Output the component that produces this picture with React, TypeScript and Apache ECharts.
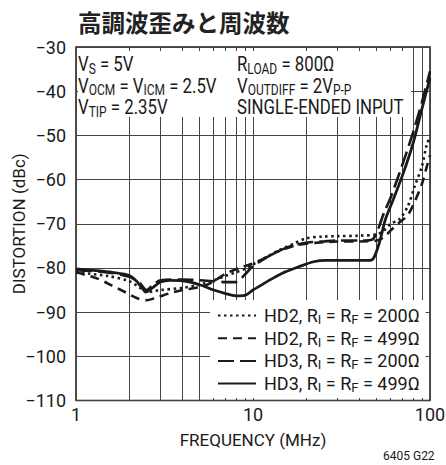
import React, { useEffect, useRef } from 'react';
import * as echarts from 'echarts';

const FONT = 'Roboto, "Liberation Sans", sans-serif';

const title = '高調波歪みと周波数';
const xAxisName = 'FREQUENCY (MHz)';
const yAxisName = 'DISTORTION (dBc)';
const figureId = '6405 G22';

const xMin = 1;
const xMax = 100;
const yMin = -110;
const yMax = -30;
const yStep = 10;
const xMinorGrid = [2, 3, 4, 5, 6, 7, 8, 9, 20, 30, 40, 50, 60, 70, 80, 90];

const seriesNames = [
  'HD2, RI = RF = 200Ω',
  'HD2, RI = RF = 499Ω',
  'HD3, RI = RF = 200Ω',
  'HD3, RI = RF = 499Ω',
];
const seriesLegendRich = [
  '{f|HD2, R}{s|I}{n| = R}{s|F}{n| = 200Ω}',
  '{f|HD2, R}{s|I}{n| = R}{s|F}{n| = 499Ω}',
  '{f|HD3, R}{s|I}{n| = R}{s|F}{n| = 200Ω}',
  '{f|HD3, R}{s|I}{n| = R}{s|F}{n| = 499Ω}',
];

// [frequency MHz, distortion dBc]
const hd2R200: [number, number][] = [
  [1, -81], [1.5, -81.8], [2, -83], [2.3, -84.5], [2.5, -85.5], [2.8, -85.2], [3, -85],
  [4, -84.5], [5, -83.8], [6, -82.8], [7, -81.8], [8, -81], [9, -80.2], [10, -79.2],
  [12, -77.5], [14, -76], [17, -74.5], [20, -73.3], [25, -72.9], [30, -72.8], [40, -72.7],
  [50, -72.4], [55, -71.5], [60, -70], [67, -69], [75, -66], [82, -61.5], [90, -57],
  [96, -52], [100, -50.5],
];
const hd2R499: [number, number][] = [
  [1, -81], [1.3, -82.3], [1.6, -84], [1.9, -85.5], [2.2, -86.8], [2.5, -87.3], [2.8, -86.8],
  [3.4, -85.7], [4, -85], [5.2, -84.2], [6, -83], [7, -81.3], [8.8, -79.7], [10, -79],
  [12, -77.5], [14, -76.2], [17, -75], [20, -74.5], [25, -74.2], [30, -74], [40, -74],
  [50, -73.8], [55, -73], [60, -71.5], [66, -70], [75, -68], [82, -65], [90, -61],
  [96, -57], [100, -54.5],
];
const hd3R200: [number, number][] = [
  [1, -80.5], [1.5, -81], [2, -82], [2.3, -83.5], [2.5, -85], [2.7, -84], [3, -82.8],
  [4, -82.6], [5, -82.8], [6, -83], [7, -83.2], [8, -83.2], [9, -81.5], [10, -79.5],
  [11, -78.5], [13, -76.8], [16, -75.2], [20, -74.3], [25, -74], [30, -73.8], [40, -73.8],
  [47, -73.6], [50, -72], [55, -67.5], [60, -64], [70, -56.5], [80, -49.5], [90, -42.5],
  [100, -35.5],
];
const hd3R499: [number, number][] = [
  [1, -80.2], [1.3, -80.6], [1.6, -81], [2, -81.7], [2.2, -83], [2.5, -85.4], [2.7, -84.5],
  [3, -83.2], [3.4, -82.8], [4, -82.9], [5, -83.8], [6, -85], [7, -85.8], [8, -86.3],
  [9, -86.2], [10, -85], [11, -84], [13, -82.3], [15, -81], [18, -79.8], [22, -78.6],
  [26, -78.3], [35, -78.3], [45, -78.3], [48, -77.8], [52, -74], [56, -69], [62, -64.5],
  [70, -59], [80, -52], [90, -44], [100, -37],
];
const seriesData = [hd2R200, hd2R499, hd3R200, hd3R499];
const seriesDash: (number[] | 'solid')[] = [[2.5, 3.5], [9, 6], [16, 6], 'solid'];

const annotationLeft = [
  '{n|V}{s|S}{n| = 5V}',
  '{n|V}{s|OCM}{n| = V}{s|ICM}{n| = 2.5V}',
  '{n|V}{s|TIP}{n| = 2.35V}',
];
const annotationRight = [
  '{n|R}{s|LOAD}{n| = 800Ω}',
  '{n|V}{s|OUTDIFF}{n| = 2V}{s|P-P}',
  '{n|SINGLE-ENDED INPUT}',
];

const INK = '#1a1a1a';

export default function App() {
  const ref = useRef<HTMLDivElement>(null);
  useEffect(() => {
    if (!ref.current) return;
    const chart = echarts.init(ref.current, undefined, { renderer: 'svg' });
    const annRich = {
      n: { fontFamily: FONT, fontSize: 21, lineHeight: 20, color: INK },
      s: { fontFamily: FONT, fontSize: 15, lineHeight: 15, color: INK, padding: [8, 0, 0, 0] },
    };
    const annTexts: any[] = [];
    [annotationLeft, annotationRight].forEach((col, ci) => {
      col.forEach((t, li) => {
        annTexts.push({
          type: 'text',
          x: ci === 0 ? 78 : 237,
          y: 54 + li * 21.5,
          z: 4,
          scaleX: 0.8,
          style: { text: t, rich: annRich, verticalAlign: 'top', align: 'left', fill: INK },
        });
      });
    });
    const option: any = {
      animation: false,
      title: {
        text: title,
        left: 73,
        top: 5,
        textStyle: { fontFamily: '"Noto Sans CJK JP"', fontSize: 23.5, fontWeight: 'bold', color: '#222' },
      },
      grid: {
        left: 76, top: 47, width: 354, height: 353.5, show: true,
        borderColor: INK, borderWidth: 1.5, backgroundColor: 'transparent',
        containLabel: false, outerBoundsMode: 'none',
      },
      xAxis: {
        type: 'log',
        logBase: 10,
        min: xMin,
        max: xMax,
        name: xAxisName,
        nameLocation: 'middle',
        nameGap: 31,
        nameMoveOverlap: false,
        nameTextStyle: { fontFamily: FONT, fontSize: 17, color: INK },
        axisLine: { show: false },
        axisTick: { show: false },
        axisLabel: { fontFamily: FONT, fontSize: 18, color: INK, margin: 5 },
        splitLine: { show: true, lineStyle: { color: '#444', width: 1 } },
      },
      yAxis: {
        type: 'value',
        min: yMin,
        max: yMax,
        interval: yStep,
        name: yAxisName,
        nameLocation: 'middle',
        nameRotate: 90,
        nameGap: 49,
        nameMoveOverlap: false,
        nameTextStyle: { fontFamily: FONT, fontSize: 17, color: INK },
        axisLine: { show: false },
        axisTick: { show: false },
        axisLabel: {
          fontFamily: FONT,
          fontSize: 18,
          color: INK,
          margin: 10,
          formatter: (v: number) => String(v).replace('-', '\u2212'),
        },
        splitLine: { show: true, lineStyle: { color: '#444', width: 1 } },
      },
      legend: {
        data: seriesNames,
        orient: 'vertical',
        left: 210,
        top: 300,
        backgroundColor: '#fff',
        padding: [5, 6, 4, 7],
        itemWidth: 38,
        itemHeight: 14,
        itemGap: 1.7,
        selectedMode: false,
        itemStyle: { opacity: 0 },
        formatter: (name: string) => seriesLegendRich[seriesNames.indexOf(name)],
        textStyle: {
          color: INK,
          rich: {
            f: { fontFamily: FONT, fontSize: 18, lineHeight: 18, color: INK, padding: [0, 0, 0, 3] },
            n: { fontFamily: FONT, fontSize: 18, lineHeight: 18, color: INK },
            s: { fontFamily: FONT, fontSize: 13, lineHeight: 12, color: INK, padding: [8, 0, 0, 0] },
          },
        },
      },
      graphic: {
        elements: [
          { type: 'rect', z: 3, shape: { x: 78, y: 51, width: 333, height: 66 }, style: { fill: '#fff' } },
          ...annTexts,
          {
            type: 'text',
            x: 383,
            y: 456,
            z: 4,
            style: { text: figureId, fontFamily: FONT, fontSize: 12, fill: INK, verticalAlign: 'middle', align: 'left' },
          },
        ],
      },
      series: [
        {
          type: 'line',
          data: [],
          z: 1,
          silent: true,
          markLine: {
            silent: true,
            z: 1,
            symbol: 'none',
            label: { show: false },
            lineStyle: { color: '#444', width: 1, type: 'solid' },
            data: xMinorGrid.map((v) => ({ xAxis: v })),
          },
        },
        ...seriesNames.map((name, i) => ({
          name,
          type: 'line',
          data: seriesData[i],
          z: 5,
          symbol: 'none',
          smooth: 0.3,
          lineStyle: { color: INK, width: i === 3 ? 2.8 : 2.6, type: seriesDash[i] },
          itemStyle: { color: INK },
        })),
      ],
    };
    chart.setOption(option);
    return () => chart.dispose();
  }, []);
  return <div ref={ref} style={{ position: 'absolute', left: 0, top: 0, width: 446, height: 465 }} />;
}
